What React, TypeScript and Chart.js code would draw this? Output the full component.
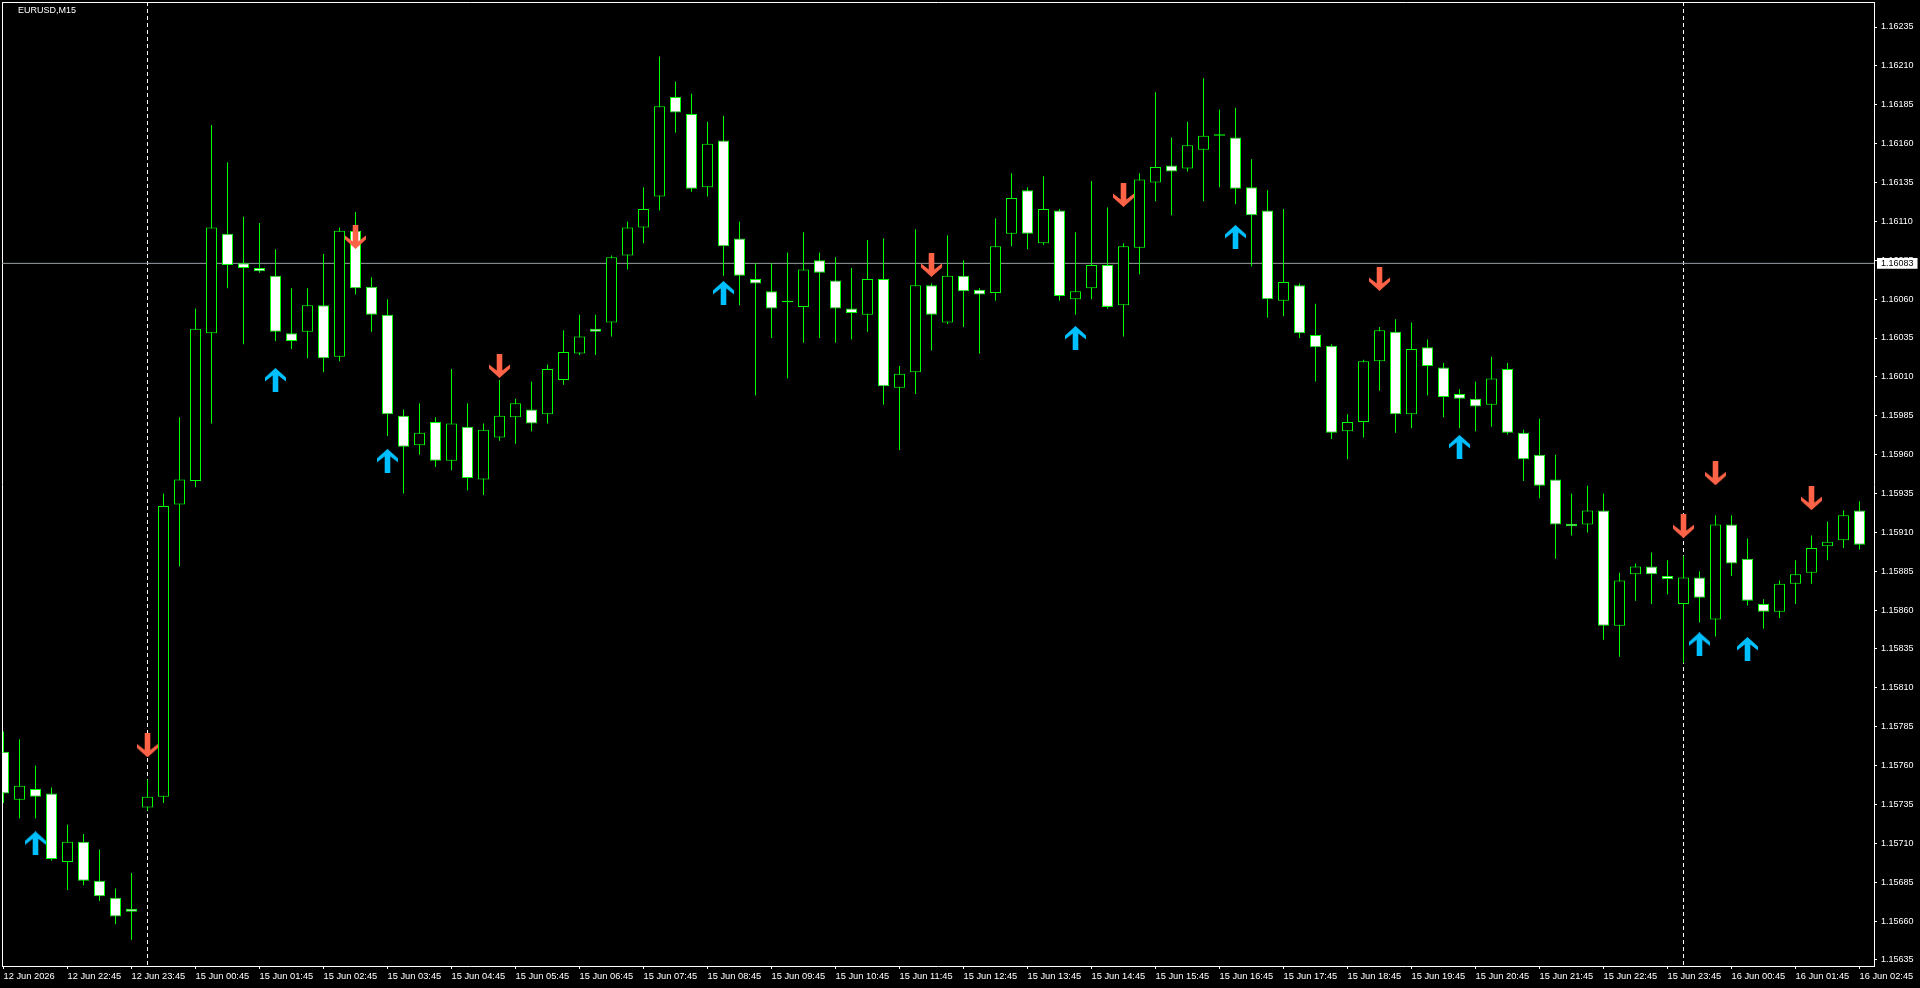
import { useEffect, useRef } from 'react';
import { Chart, registerables } from 'chart.js';

Chart.register(...registerables);

// ---- data (EURUSD M15) ----
const opens = [
  1.15769, 1.15738, 1.15745, 1.15742, 1.15698, 1.15711, 1.15686, 1.15675, 1.15668, 1.15733,
  1.15740, 1.15928, 1.15943, 1.16038, 1.16102, 1.16083, 1.16080, 1.16075, 1.16038, 1.16039,
  1.16056, 1.16023, 1.16104, 1.16068, 1.16050, 1.15985, 1.15966, 1.15981, 1.15956, 1.15978,
  1.15944, 1.15971, 1.15984, 1.15989, 1.15986, 1.16008, 1.16025, 1.16041, 1.16045, 1.16088,
  1.16106, 1.16126, 1.16190, 1.16179, 1.16132, 1.16162, 1.16099, 1.16073, 1.16065, 1.16059,
  1.16055, 1.16085, 1.16072, 1.16054, 1.16050, 1.16073, 1.16003, 1.16013, 1.16069, 1.16045,
  1.16075, 1.16066, 1.16064, 1.16102, 1.16130, 1.16096, 1.16117, 1.16060, 1.16067, 1.16082,
  1.16056, 1.16093, 1.16135, 1.16146, 1.16144, 1.16156, 1.16166, 1.16164, 1.16132, 1.16117,
  1.16059, 1.16069, 1.16037, 1.16030, 1.15975, 1.15981, 1.16020, 1.16039, 1.15986, 1.16029,
  1.16016, 1.15999, 1.15996, 1.15992, 1.16015, 1.15974, 1.15960, 1.15944, 1.159155, 1.15915,
  1.15924, 1.15850, 1.15883, 1.15888, 1.15882, 1.15864, 1.15881, 1.15854, 1.15915, 1.15893,
  1.15864, 1.15859, 1.15877, 1.15884, 1.15901, 1.15905, 1.15924,
];
const highs = [
  1.15782, 1.15777, 1.15760, 1.15746, 1.15722, 1.15716, 1.15706, 1.15681, 1.15691, 1.15751,
  1.15935, 1.15984, 1.16054, 1.16172, 1.16148, 1.16113, 1.16109, 1.16092, 1.16067, 1.16067,
  1.16089, 1.16106, 1.16116, 1.16074, 1.16060, 1.15989, 1.15993, 1.15984, 1.16015, 1.15993,
  1.15980, 1.16008, 1.15996, 1.16007, 1.16018, 1.16040, 1.16050, 1.16050, 1.16088, 1.16110,
  1.16132, 1.16216, 1.16200, 1.16192, 1.16174, 1.16178, 1.16110, 1.16083, 1.16083, 1.16090,
  1.16103, 1.16090, 1.16087, 1.16080, 1.16098, 1.16099, 1.16017, 1.16105, 1.16070, 1.16101,
  1.16085, 1.16067, 1.16112, 1.16141, 1.16132, 1.16139, 1.16118, 1.16103, 1.16136, 1.16119,
  1.16096, 1.16141, 1.16193, 1.16164, 1.16174, 1.16202, 1.16182, 1.16183, 1.16150, 1.16130,
  1.16118, 1.16070, 1.16057, 1.16031, 1.15986, 1.16021, 1.16042, 1.16047, 1.16045, 1.16034,
  1.16019, 1.16002, 1.16007, 1.16023, 1.16019, 1.15976, 1.15983, 1.15960, 1.15935, 1.15940,
  1.15935, 1.15884, 1.15890, 1.15897, 1.15892, 1.15895, 1.15885, 1.15921, 1.15921, 1.15906,
  1.15867, 1.15879, 1.15892, 1.15908, 1.15917, 1.15924, 1.15930,
];
const lows = [
  1.15736, 1.15726, 1.15726, 1.15699, 1.15680, 1.15683, 1.15673, 1.15658, 1.15648, 1.15731,
  1.15736, 1.15888, 1.15939, 1.15980, 1.16067, 1.16031, 1.16077, 1.16033, 1.16028, 1.16022,
  1.16013, 1.16020, 1.16063, 1.16039, 1.15972, 1.15935, 1.15960, 1.15952, 1.15950, 1.15937,
  1.15934, 1.15969, 1.15967, 1.15975, 1.15980, 1.16005, 1.16024, 1.16024, 1.16036, 1.16079,
  1.16096, 1.16117, 1.16167, 1.16129, 1.16126, 1.16075, 1.16056, 1.15998, 1.16035, 1.16009,
  1.16032, 1.16035, 1.16032, 1.16034, 1.16039, 1.15992, 1.15963, 1.15999, 1.16027, 1.16044,
  1.16042, 1.16025, 1.16059, 1.16094, 1.16092, 1.16095, 1.16059, 1.16050, 1.16060, 1.16054,
  1.16036, 1.16076, 1.16123, 1.16114, 1.16142, 1.16123, 1.16132, 1.16121, 1.16081, 1.16048,
  1.16049, 1.16035, 1.16007, 1.15970, 1.15957, 1.15971, 1.16001, 1.15974, 1.15977, 1.15998,
  1.15984, 1.15977, 1.15975, 1.15978, 1.15973, 1.15943, 1.15932, 1.15893, 1.15908, 1.15910,
  1.15841, 1.15830, 1.15866, 1.15864, 1.15870, 1.15826, 1.15852, 1.15843, 1.15882, 1.15863,
  1.15848, 1.15855, 1.15864, 1.15877, 1.15892, 1.15900, 1.15899,
];
const closes = [
  1.15742, 1.15747, 1.15740, 1.15700, 1.15711, 1.15686, 1.15676, 1.15663, 1.15666, 1.15740,
  1.15927, 1.15944, 1.16041, 1.16106, 1.16082, 1.16080, 1.16078, 1.16039, 1.16033, 1.16056,
  1.16022, 1.16104, 1.16067, 1.16050, 1.15986, 1.15965, 1.15974, 1.15956, 1.15980, 1.15945,
  1.15976, 1.15985, 1.15993, 1.15980, 1.16015, 1.16026, 1.16036, 1.16039, 1.16087, 1.16106,
  1.16118, 1.16184, 1.16180, 1.16131, 1.16160, 1.16094, 1.16075, 1.16070, 1.16054, 1.16058,
  1.16079, 1.16077, 1.16054, 1.16051, 1.16073, 1.16004, 1.16012, 1.16069, 1.16050, 1.16075,
  1.16065, 1.16063, 1.16094, 1.16125, 1.16102, 1.16118, 1.16062, 1.16065, 1.16082, 1.16055,
  1.16094, 1.16137, 1.16145, 1.16142, 1.16159, 1.16165, 1.16165, 1.16131, 1.16114, 1.16060,
  1.16071, 1.16038, 1.16029, 1.15974, 1.15981, 1.16020, 1.16040, 1.15986, 1.16028, 1.16017,
  1.15997, 1.15996, 1.15991, 1.16009, 1.15974, 1.15957, 1.15940, 1.15915, 1.15914, 1.15924,
  1.15850, 1.15879, 1.15888, 1.15883, 1.15880, 1.15881, 1.15868, 1.15915, 1.15890, 1.15866,
  1.15859, 1.15877, 1.15883, 1.15900, 1.15904, 1.15921, 1.15902,
];

const upArrowBars = [2, 17, 24, 45, 67, 77, 91, 106, 109];
const upArrowPrices = [1.1571, 1.16008, 1.15956, 1.16064, 1.16035, 1.161, 1.15965, 1.15838, 1.15835];
const downArrowBars = [9, 22, 31, 58, 70, 86, 105, 107, 113];
const downArrowPrices = [1.15773, 1.161, 1.16017, 1.16082, 1.16127, 1.16073, 1.15914, 1.15948, 1.15932];

const separatorBars = [9, 105];
const currentPrice = 1.16083;
const symbolLabel = 'EURUSD,M15';

const xTickBars = [0, 4, 8, 12, 16, 20, 24, 28, 32, 36, 40, 44, 48, 52, 56, 60, 64, 68, 72, 76, 80, 84, 88, 92, 96, 100, 104, 108, 112, 116];
const xTickLabels = [
  '12 Jun 2026', '12 Jun 22:45', '12 Jun 23:45', '15 Jun 00:45', '15 Jun 01:45', '15 Jun 02:45',
  '15 Jun 03:45', '15 Jun 04:45', '15 Jun 05:45', '15 Jun 06:45', '15 Jun 07:45', '15 Jun 08:45',
  '15 Jun 09:45', '15 Jun 10:45', '15 Jun 11:45', '15 Jun 12:45', '15 Jun 13:45', '15 Jun 14:45',
  '15 Jun 15:45', '15 Jun 16:45', '15 Jun 17:45', '15 Jun 18:45', '15 Jun 19:45', '15 Jun 20:45',
  '15 Jun 21:45', '15 Jun 22:45', '15 Jun 23:45', '16 Jun 00:45', '16 Jun 01:45', '16 Jun 02:45',
];
const yTickValues = [
  1.15635, 1.1566, 1.15685, 1.1571, 1.15735, 1.1576, 1.15785, 1.1581, 1.15835, 1.1586, 1.15885,
  1.1591, 1.15935, 1.1596, 1.15985, 1.1601, 1.16035, 1.1606, 1.16085, 1.1611, 1.16135, 1.1616,
  1.16185, 1.1621, 1.16235,
];

// axis windows
const X_MIN = -0.09375;
const X_MAX = 116.90625;
const Y_MAX = 1.1625108;
const Y_MIN = 1.1563114;

const Y_FONT = { family: 'Liberation Sans', size: 9 };
const X_FONT = { family: 'Liberation Sans', size: 9.3 };

function makeArrow(color: string, up: boolean): HTMLCanvasElement {
  const c = document.createElement('canvas');
  c.width = 21;
  c.height = 24;
  const g = c.getContext('2d')!;
  const pts = [
    [10.5, 0], [21, 9.5], [21, 13.5], [13.3, 7.5], [13.3, 24], [7.7, 24], [7.7, 7.5], [0, 13.5], [0, 9.5],
  ];
  g.fillStyle = color;
  g.beginPath();
  pts.forEach(([px, py], k) => {
    const yy = up ? py : 24 - py;
    if (k === 0) g.moveTo(px, yy);
    else g.lineTo(px, yy);
  });
  g.closePath();
  g.fill();
  return c;
}

export default function App() {
  const ref = useRef<HTMLCanvasElement>(null);

  useEffect(() => {
    const canvas = ref.current;
    if (!canvas) return;
    const upArrow = makeArrow('#00BFFF', true);
    const downArrow = makeArrow('#FF6347', false);

    const bodies = opens.map((o, i) => ({ x: i, y: [o, closes[i]] }));
    const wicks = lows.map((l, i) => ({ x: i, y: [l, highs[i]] }));
    const bodyFill = opens.map((o, i) => (closes[i] < o ? '#FFFFFF' : '#000000'));

    const separatorSets = separatorBars.map((b) => ({
      type: 'line' as const,
      data: [{ x: b, y: Y_MAX }, { x: b, y: Y_MIN }],
      borderColor: '#FFFFFF',
      borderWidth: 1,
      borderDash: [4, 3],
      pointRadius: 0,
      order: 10,
      clip: 0,
    }));

    const chart = new Chart(canvas, {
      type: 'bar',
      data: {
        datasets: [
          {
            type: 'line',
            data: [{ x: X_MIN, y: currentPrice }, { x: X_MAX, y: currentPrice }],
            borderColor: '#9aa0a6',
            borderWidth: 1,
            pointRadius: 0,
            order: 9,
            clip: 0,
          } as any,
          ...(separatorSets as any[]),
          {
            type: 'bar',
            data: wicks,
            backgroundColor: '#00FF00',
            borderWidth: 0,
            barThickness: 1,
            grouped: false,
            inflateAmount: 0,
            order: 4,
            clip: 0,
          } as any,
          {
            type: 'bar',
            data: bodies,
            backgroundColor: bodyFill,
            borderColor: '#00FF00',
            borderWidth: 1,
            borderSkipped: false,
            barThickness: 11,
            grouped: false,
            inflateAmount: 0,
            order: 3,
            clip: 0,
          } as any,
          {
            type: 'scatter',
            data: upArrowBars.map((b, k) => ({ x: b, y: upArrowPrices[k] })),
            pointStyle: upArrow,
            pointRadius: 5,
            order: 1,
            clip: false,
          } as any,
          {
            type: 'scatter',
            data: downArrowBars.map((b, k) => ({ x: b, y: downArrowPrices[k] })),
            pointStyle: downArrow,
            pointRadius: 5,
            order: 1,
            clip: false,
          } as any,
        ],
      },
      options: {
        responsive: false,
        animation: false,
        devicePixelRatio: 1,
        events: [],
        layout: { autoPadding: false, padding: { left: 2, top: 2, right: 0, bottom: 0 } },
        plugins: { legend: { display: false }, tooltip: { enabled: false }, title: { display: false } },
        scales: {
          x: {
            type: 'linear',
            position: 'bottom',
            min: X_MIN,
            max: X_MAX,
            offset: false,
            afterBuildTicks: (s: any) => {
              s.ticks = xTickBars.map((v) => ({ value: v }));
            },
            afterFit: (s: any) => {
              s.height = 22;
              s.paddingLeft = 0;
              s.paddingRight = 0;
            },
            ticks: {
              autoSkip: false,
              maxRotation: 0,
              minRotation: 0,
              align: 'start',
              padding: 2,
              color: '#FFFFFF',
              font: X_FONT,
              callback: (_v: any, i: number) => xTickLabels[i],
            },
            grid: { offset: false, drawOnChartArea: false, drawTicks: true, tickLength: 3, color: '#FFFFFF', tickColor: '#FFFFFF' },
            border: { display: true, color: '#FFFFFF', width: 1 },
          },
          y: {
            type: 'linear',
            position: 'right',
            min: Y_MIN,
            max: Y_MAX,
            afterBuildTicks: (s: any) => {
              s.ticks = [...yTickValues, currentPrice].map((v) => ({ value: v }));
            },
            afterFit: (s: any) => {
              s.width = 46;
              s.paddingTop = 0;
              s.paddingBottom = 0;
            },
            ticks: {
              autoSkip: false,
              padding: 4,
              font: Y_FONT,
              color: (c: any) => (c.tick && c.tick.value === currentPrice ? '#000000' : '#FFFFFF'),
              showLabelBackdrop: (c: any) => !!(c.tick && c.tick.value === currentPrice),
              backdropColor: '#FFFFFF',
              backdropPadding: { left: 4, right: 4, top: 0, bottom: 0 },
              callback: (v: any) => Number(v).toFixed(5),
            },
            grid: {
              drawOnChartArea: false,
              drawTicks: true,
              tickLength: 3,
              color: '#FFFFFF',
              tickColor: (c: any) => (c.tick && c.tick.value === currentPrice ? 'rgba(0,0,0,0)' : '#FFFFFF'),
            },
            border: { display: true, color: '#FFFFFF', width: 1 },
          },
          xTop: {
            type: 'linear',
            position: 'top',
            min: X_MIN,
            max: X_MAX,
            offset: false,
            afterFit: (s: any) => {
              s.height = 0;
              s.paddingLeft = 0;
              s.paddingRight = 0;
            },
            ticks: { display: false },
            grid: { offset: false, drawOnChartArea: false, drawTicks: false },
            border: { display: true, color: '#FFFFFF', width: 1 },
          },
          yLeft: {
            type: 'linear',
            position: 'left',
            min: Y_MIN,
            max: Y_MAX,
            afterFit: (s: any) => {
              s.width = 0;
              s.paddingTop = 0;
              s.paddingBottom = 0;
            },
            ticks: { display: false },
            grid: { drawOnChartArea: false, drawTicks: false },
            border: { display: true, color: '#FFFFFF', width: 1 },
          },
        },
      } as any,
    });
    return () => chart.destroy();
  }, []);

  return (
    <div style={{ position: 'fixed', left: 0, top: 0, width: 1920, height: 988, background: '#000000', overflow: 'hidden' }}>
      <canvas ref={ref} width={1920} height={988} style={{ display: 'block', width: 1920, height: 988 }} />
      <div
        style={{
          position: 'absolute',
          left: 18,
          top: 5,
          color: '#FFFFFF',
          fontFamily: '"Liberation Sans", Arial, sans-serif',
          fontSize: 9,
          lineHeight: '11px',
          whiteSpace: 'nowrap',
        }}
      >
        {symbolLabel}
      </div>
    </div>
  );
}
